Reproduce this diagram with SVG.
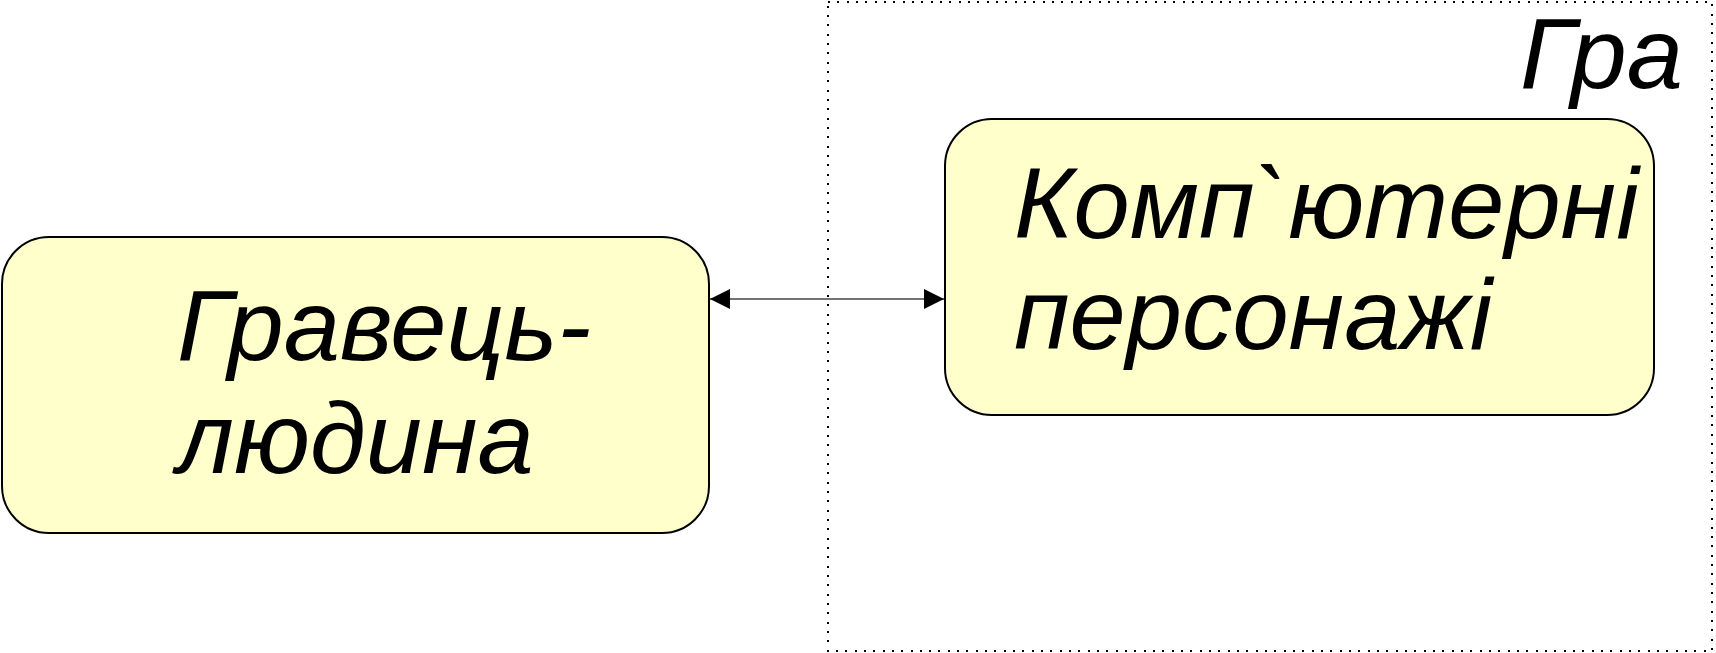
<svg xmlns="http://www.w3.org/2000/svg" width="1716" height="653" viewBox="0 0 1716 653">
<style>
.node{fill:#FFFFCC;stroke:#000;stroke-width:2}
.lbl{font-family:"Liberation Sans",Arial,sans-serif;font-style:italic;font-size:101px;fill:#000}
.frame{fill:none;stroke:#000;stroke-width:2;stroke-dasharray:2 7.33;shape-rendering:crispEdges}
.conn{stroke:#444;stroke-width:1.3;fill:none}
</style>
<defs>
<marker id="ah" viewBox="0 0 20 20" refX="20" refY="10" markerWidth="20" markerHeight="20" markerUnits="userSpaceOnUse" orient="auto-start-reverse">
<path d="M0,0 L20,10 L0,20 Z" fill="#000"/>
</marker>
</defs>
<g id="game">
<rect class="frame" x="828" y="2" width="884" height="649"/>
<text class="lbl" x="1520" y="88">Гра</text>
</g>
<g id="human">
<rect class="node" x="2" y="237" width="707" height="296" rx="47" ry="47"/>
<text class="lbl" x="177" y="360">Гравець-</text>
<text class="lbl" x="177" y="473">людина</text>
</g>
<g id="npc">
<rect class="node" x="945" y="119" width="709" height="296" rx="47" ry="47"/>
<text class="lbl" x="1014" y="238">Комп`ютерні</text>
<text class="lbl" x="1014" y="349">персонажі</text>
</g>
<g id="connectors">
<line class="conn" x1="710" y1="299" x2="944" y2="299" marker-start="url(#ah)" marker-end="url(#ah)"/>
</g>
</svg>
